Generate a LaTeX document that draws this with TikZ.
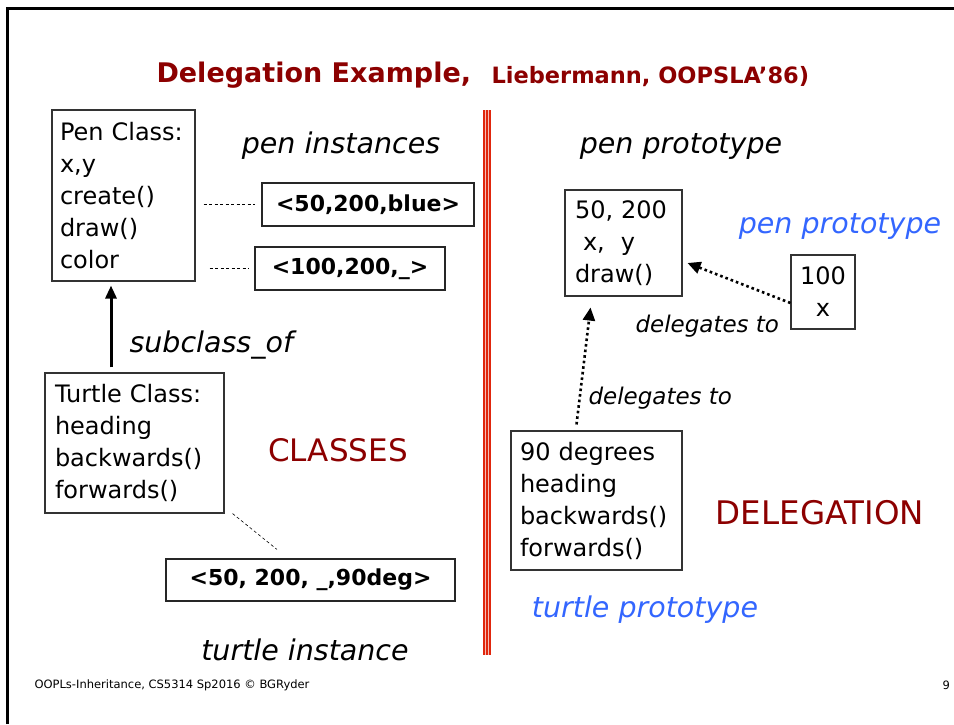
\documentclass[tikz,border=0pt]{standalone}
\usepackage{fontspec}
\setmainfont{DejaVu Sans}
\usetikzlibrary{arrows.meta}
\definecolor{TitleClr}{rgb}{0.55,0,0}
\definecolor{ProtoClr}{rgb}{0.2,0.4,1}
\definecolor{RuleClr}{rgb}{0.88,0.15,0.05}

\begin{document}
\begin{tikzpicture}[x=1pt,y=-1pt,
  box/.style={draw=black!80,line width=1.1pt,align=left,inner ysep=0pt,
    font=\fontsize{24}{32}\selectfont},
  inst/.style={draw=black!85,line width=1.1pt,inner sep=0pt,
    font=\fontsize{22}{26}\selectfont\bfseries},
  lbl/.style={font=\fontsize{28.5}{32}\selectfont\itshape},
  dlbl/.style={font=\fontsize{23}{26}\selectfont\itshape},
  big/.style={text=TitleClr,font=\fontsize{31}{34}\selectfont},
  link/.style={dash pattern=on 3pt off 2.5pt,line width=0.6pt},
  deleg/.style={line width=2.6pt,dash pattern=on 2.6pt off 3pt,
    -{Triangle[length=13pt,width=12pt]}}]
\useasboundingbox (0,0) rectangle (954,724);

\draw[line width=3pt] (7,724) -- (7,8) -- (954,8);

\node[anchor=base west,text=TitleClr,font=\fontsize{27}{30}\selectfont\bfseries]
  (title) at (153,82) {Delegation Example,};
\node[anchor=base west,text=TitleClr,font=\fontsize{22.5}{26}\selectfont\bfseries]
  (source) at (488,83) {Liebermann, OOPSLA’86)};

\fill[RuleClr!30] (483,110) rectangle (491,655);
\foreach \x in {484,487,490}
  \draw[RuleClr,line width=1.3pt] (\x,110) -- (\x,655);

\node[box,minimum width=143pt,minimum height=171pt,inner xsep=8pt,text width=127pt]
  (penclass) at (123.5,195.5) {Pen Class:\\x,y\\create()\\draw()\\color};
\node[box,minimum width=179pt,minimum height=140pt,inner xsep=10pt,text width=159pt]
  (turtleclass) at (134.5,443) {Turtle Class:\\heading\\backwards()\\forwards()};

\node[inst,minimum width=212pt,minimum height=43pt] (inst1) at (368,204.5) {<50,200,blue>};
\node[inst,minimum width=190pt,minimum height=43pt] (inst2) at (350,268.5) {<100,200,\_>};
\node[inst,minimum width=289pt,minimum height=42pt] (inst3) at (310.5,580) {<50, 200, \_,90deg>};

\node[lbl] (peninst) at (341,146) {pen instances};
\node[lbl,anchor=west] (subof) at (126,345) {subclass\_of};
\node[big] (classes) at (338,450) {CLASSES};
\node[lbl] (turtleinst) at (305,650) {turtle instance};

\draw[link] ([xshift=8pt]penclass.east |- inst1.west) -- ([xshift=-6pt]inst1.west);
\draw[link] ([xshift=14pt]penclass.east |- inst2.west) -- ([xshift=-5pt]inst2.west);
\draw[link] ([xshift=8pt]turtleclass.south east) -- ([xshift=-33.5pt,yshift=9pt]inst3.north);
\draw[line width=3pt,-{Triangle[length=13pt,width=11pt]}]
  ([xshift=-23.5pt,yshift=5pt]turtleclass.north) -- ([xshift=-12.5pt,yshift=-4pt]penclass.south);

\node[box,minimum width=117pt,minimum height=106pt,inner xsep=10pt,text width=97pt]
  (penproto) at (623.5,243) {50, 200\\\ x,\ \ y\\draw()};
\node[box,align=center,minimum width=64pt,minimum height=74pt,inner xsep=4pt]
  (pen100) at (823,292) {100\\x};
\node[box,minimum width=171pt,minimum height=139pt,inner xsep=9pt,text width=153pt]
  (tproto) at (596.5,500.5) {90 degrees\\heading\\backwards()\\forwards()};

\node[lbl] (penprotolbl) at (681,146) {pen prototype};
\node[lbl,text=ProtoClr] (penprotoname) at (840,226) {pen prototype};
\node[lbl,text=ProtoClr] (tprotoname) at (645,610) {turtle prototype};
\node[big,font=\fontsize{32.5}{36}\selectfont] (delegation) at (820,513) {DELEGATION};
\node[dlbl,anchor=west] (deleg1) at (632,326) {delegates to};
\node[dlbl,anchor=west] (deleg2) at (585,398) {delegates to};

\draw[deleg] ([yshift=-11pt]pen100.west) -- ([xshift=5pt,yshift=-20pt]penproto.east);
\draw[deleg] ([xshift=-20pt,yshift=6pt]tproto.north) -- ([xshift=-33pt,yshift=-11pt]penproto.south);

\node[anchor=west,font=\fontsize{11.5}{14}\selectfont] (footer) at (31,685)
  {OOPLs-Inheritance, CS5314 Sp2016 © BGRyder};
\node[anchor=west,font=\fontsize{11.5}{14}\selectfont] (pagenum) at (939,685) {9};

\end{tikzpicture}
\end{document}
